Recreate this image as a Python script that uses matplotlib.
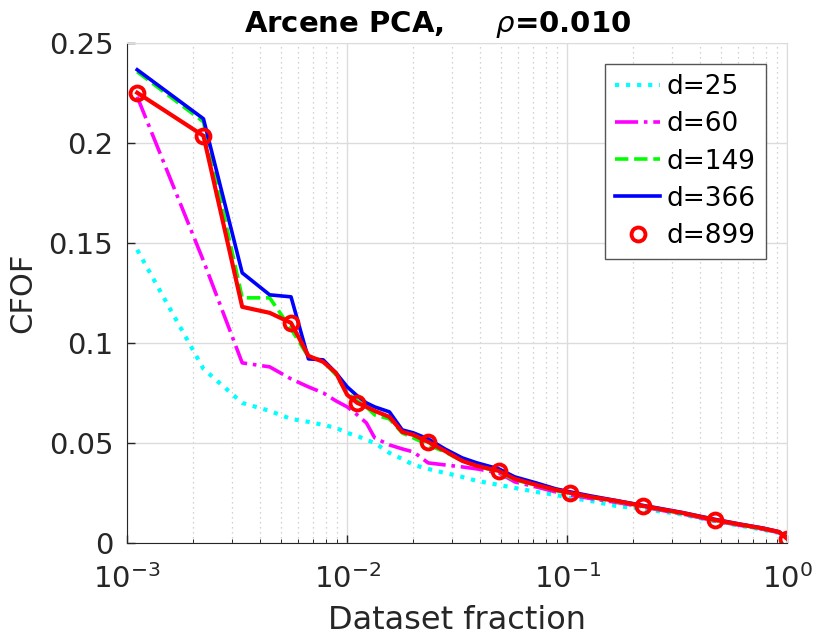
import numpy as np
import matplotlib.pyplot as plt
from matplotlib.ticker import LogLocator, NullFormatter

plt.rcParams['font.family'] = ['DejaVu Sans']

# number of points in the dataset, and the point index used on the x axis
n = 900
k = [1, 2, 3, 4, 5, 6, 7, 8, 9, 10, 11, 12, 14, 16, 18, 21, 25, 30, 35, 44,
     52, 65, 80, 93, 115, 150, 198, 250, 300, 422, 550, 700, 825, 900]

d25 = [0.1465, 0.087, 0.070, 0.066, 0.062, 0.0605, 0.059, 0.0575, 0.055, 0.0535,
       0.0515, 0.050, 0.045, 0.042, 0.039, 0.037, 0.035, 0.033, 0.031, 0.029,
       0.0275, 0.0255, 0.024, 0.0225, 0.021, 0.0185, 0.017, 0.0155, 0.0142, 0.0108,
       0.0086, 0.0066, 0.005, 0.003]
d60 = [0.223, 0.141, 0.090, 0.088, 0.082, 0.078, 0.075, 0.071, 0.068, 0.064,
       0.060, 0.0525, 0.049, 0.047, 0.0455, 0.040, 0.039, 0.038, 0.037, 0.035,
       0.0305, 0.028, 0.0255, 0.024, 0.0222, 0.0203, 0.018, 0.016, 0.0145, 0.011,
       0.0088, 0.0068, 0.0052, 0.0025]
d149 = [0.2355, 0.2105, 0.1225, 0.1225, 0.107, 0.093, 0.091, 0.084, 0.075, 0.071,
        0.068, 0.064, 0.062, 0.055, 0.0525, 0.049, 0.0455, 0.041, 0.0385, 0.0355,
        0.0315, 0.029, 0.0262, 0.0248, 0.0228, 0.0208, 0.0183, 0.0163, 0.0148, 0.0113,
        0.009, 0.007, 0.0054, 0.0025]
d366 = [0.2365, 0.212, 0.135, 0.124, 0.123, 0.092, 0.0915, 0.085, 0.078, 0.0735,
        0.070, 0.068, 0.0655, 0.0565, 0.055, 0.052, 0.047, 0.0425, 0.040, 0.037,
        0.033, 0.030, 0.027, 0.0255, 0.0235, 0.0212, 0.0188, 0.0168, 0.0152, 0.0118,
        0.0094, 0.0074, 0.0056, 0.0025]
d899 = [0.225, 0.2035, 0.118, 0.115, 0.110, 0.0935, 0.0905, 0.085, 0.074, 0.070,
        0.068, 0.066, 0.063, 0.0555, 0.054, 0.0505, 0.046, 0.041, 0.0385, 0.036,
        0.032, 0.029, 0.0265, 0.025, 0.023, 0.021, 0.0185, 0.0165, 0.015, 0.0115,
        0.0092, 0.0072, 0.0055, 0.002]

# indices where the d=899 markers are drawn
mk = [1, 2, 5, 10, 21, 44, 93, 198, 422, 900]

x = np.array(k) / n
xm = np.array(mk) / n
ym = [d899[k.index(i)] for i in mk]

fig = plt.figure(figsize=(8.15, 6.38), dpi=100)
ax = fig.add_axes([0.156, 0.149, 0.81, 0.784])

lw = 2.6
ax.plot(x, d25, color='#00ffff', ls=':', lw=lw + 0.4, label='d=25')
ax.plot(x, d60, color='#ff00ff', ls='-.', lw=lw, label='d=60')
ax.plot(x, d149, color='#00ff00', ls='--', lw=lw, label='d=149')
ax.plot(x, d366, color='#0000ff', ls='-', lw=lw, label='d=366')
ax.plot(x, d899, color='#ff0000', ls='-', lw=lw + 0.4)
ax.plot(xm, ym, 'o', color='#ff0000', mfc='none', ms=10, mew=2.8, label='d=899')

ax.set_xscale('log')
ax.set_xlim(1e-3, 1)
ax.set_ylim(0, 0.25)
ax.set_yticks([0, 0.05, 0.1, 0.15, 0.2, 0.25])
ax.set_yticklabels(['0', '0.05', '0.1', '0.15', '0.2', '0.25'])
ax.xaxis.set_major_locator(LogLocator(base=10, numticks=10))
ax.xaxis.set_minor_locator(LogLocator(base=10, subs=np.arange(2, 10), numticks=10))
ax.xaxis.set_minor_formatter(NullFormatter())

ax.grid(True, which='major', color='#dcdcdc', lw=1)
ax.grid(True, which='minor', axis='x', color='#c4c4c4', ls=(0, (1, 3)), lw=0.9)
ax.set_axisbelow(True)

ax.tick_params(direction='in', labelsize=21, length=6, width=1, colors='#262626',
               top=False, right=False)
ax.tick_params(axis='x', pad=15)
ax.tick_params(axis='y', pad=10)
ax.tick_params(which='minor', direction='in', length=3, top=False)
for s in ['left', 'bottom']:
    ax.spines[s].set_color('#262626')
for s in ['top', 'right']:
    ax.spines[s].set_color('#dcdcdc')

ax.set_xlabel('Dataset fraction', fontsize=23, color='#262626', labelpad=8)
ax.set_ylabel('CFOF', fontsize=22, color='#262626', labelpad=8)
ax.set_title(r'Arcene PCA,     $\rho$=0.010', fontsize=21, fontweight='bold',
             x=0.47, pad=8)

leg = ax.legend(loc='upper right', fontsize=19, fancybox=False, framealpha=1,
                edgecolor='#555555', handlelength=1.7, borderaxespad=0.8,
                labelspacing=0.42, handletextpad=0.25, borderpad=0.4)
leg.get_frame().set_linewidth(1)

fig.savefig('out.png', dpi=100)
